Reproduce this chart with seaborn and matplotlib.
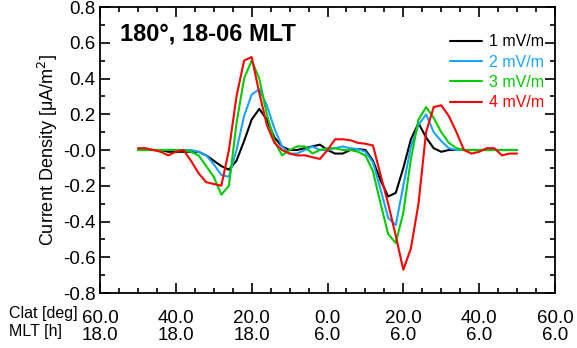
import numpy as np
import pandas as pd
from matplotlib import pyplot as plt
from matplotlib.ticker import MultipleLocator
import seaborn as sns

# position along the 18-06 MLT cut, -60 (18 MLT side) to +60 (06 MLT side)
pos = [-50, -48, -46, -44, -42, -40, -38, -36, -34, -32, -30, -28, -26, -24, -22,
       -20, -18, -16, -14, -12, -10, -8, -6, -4, -2, 0, 2, 4, 6, 8, 10, 12, 14, 16,
       18, 20, 22, 24, 26, 28, 30, 32, 34, 36, 38, 40, 42, 44, 46, 48, 50]

j_1mv = [0.0, 0.0, 0.0, 0.0, -0.01, -0.01, -0.01, -0.01, -0.01, -0.03, -0.06, -0.09, -0.11, -0.06, 0.05,
         0.17, 0.23, 0.17, 0.07, 0.02, 0.0, 0.0, 0.01, 0.02, 0.03, 0.0, -0.02, -0.02, 0.0, 0.005, 0.0, -0.06, -0.17, -0.26,
         -0.24, -0.1, 0.06, 0.15, 0.07, 0.01, -0.01, 0.0, 0.0, 0.0, 0.0, 0.0, 0.0, 0.0, 0.0, 0.0, 0.0]

j_2mv = [0.0, 0.0, 0.0, 0.0, 0.0, 0.0, 0.0, 0.0, -0.01, -0.03, -0.08, -0.14, -0.15, 0.0, 0.19,
         0.31, 0.34, 0.25, 0.12, 0.02, -0.02, -0.02, 0.0, 0.02, 0.0, 0.0, 0.01, 0.02, 0.01, 0.005, -0.01, -0.07, -0.22, -0.38,
         -0.42, -0.2, 0.02, 0.14, 0.2, 0.1, 0.05, 0.01, 0.0, 0.0, 0.0, 0.0, 0.0, 0.0, 0.0, 0.0, 0.0]

j_3mv = [0.0, 0.0, 0.0, 0.0, 0.0, 0.0, 0.0, -0.01, -0.03, -0.09, -0.15, -0.25, -0.2, 0.15, 0.4,
         0.5, 0.4, 0.2, 0.05, -0.03, 0.0, 0.02, 0.02, -0.02, 0.0, 0.01, 0.01, 0.0, 0.0, -0.01, -0.03, -0.12, -0.3, -0.47,
         -0.52, -0.35, -0.05, 0.17, 0.24, 0.18, 0.1, 0.04, 0.01, 0.0, 0.0, 0.0, 0.0, 0.0, 0.0, 0.0, 0.0]

j_4mv = [0.01, 0.01, 0.0, -0.01, -0.03, -0.01, 0.0, -0.06, -0.13, -0.18, -0.19, -0.2, 0.0, 0.3, 0.5,
         0.52, 0.32, 0.14, 0.04, 0.0, -0.02, -0.03, -0.03, -0.04, -0.05, 0.0, 0.06, 0.06, 0.055, 0.04, 0.035, 0.025, -0.14, -0.3,
         -0.48, -0.67, -0.55, -0.3, 0.1, 0.24, 0.25, 0.19, 0.1, 0.0, -0.02, -0.01, 0.01, 0.01, -0.03, -0.02, -0.02]

labels = ['1 mV/m', '2 mV/m', '3 mV/m', '4 mV/m']
colors = ['black', '#1aa3ff', '#00cc00', '#ff0000']

xticks = [-60, -40, -20, 0, 20, 40, 60]
clat_labels = ['60.0', '40.0', '20.0', '0.0', '20.0', '40.0', '60.0']
mlt_labels = ['18.0', '18.0', '18.0', '6.0', '6.0', '6.0', '6.0']

df = pd.DataFrame({'pos': pos, labels[0]: j_1mv, labels[1]: j_2mv,
                   labels[2]: j_3mv, labels[3]: j_4mv})
df = df.melt(id_vars='pos', var_name='field', value_name='j')

sns.set_style('ticks')
plt.rcParams['font.family'] = ['Liberation Sans', 'DejaVu Sans']
plt.rcParams['axes.unicode_minus'] = False
plt.rcParams['text.color'] = 'black'
plt.rcParams['axes.labelcolor'] = 'black'

fig = plt.figure(figsize=(5.77, 3.48), dpi=100)
ax = fig.add_axes([100 / 577, 1 - 293 / 348, 455 / 577, 286 / 348])

sns.lineplot(data=df, x='pos', y='j', hue='field', palette=colors,
             linewidth=1.5, ax=ax, legend=True)

ax.set_xlim(-60, 60)
ax.set_ylim(-0.8, 0.8)
ax.set_xticks(xticks)
ax.set_xticklabels([c + '\n' + m for c, m in zip(clat_labels, mlt_labels)],
                   linespacing=1.0)
ax.xaxis.set_minor_locator(MultipleLocator(5))
ax.set_yticks(np.arange(-0.8, 0.81, 0.2))
ax.set_yticklabels(['%.1f' % v for v in np.arange(-0.8, 0.81, 0.2)])
ax.yaxis.set_minor_locator(MultipleLocator(0.1))
ax.tick_params(which='both', direction='in', top=True, right=True, width=1.2,
               labelsize=13.5, colors='black')
ax.tick_params(which='major', length=7)
ax.tick_params(which='minor', length=3.5)
ax.tick_params(axis='y', pad=3)
ax.tick_params(axis='x', pad=12)
for s in ax.spines.values():
    s.set_linewidth(1.3)
    s.set_color('black')

ax.set_xlabel('')
ax.set_ylabel('Current Density [$\\mathregular{\\mu}$A/m$^2$]', fontsize=13, labelpad=2)

ax.text(0.045, 0.905, '180°, 18-06 MLT', transform=ax.transAxes,
        fontsize=17, fontweight='bold', va='center', ha='left')

fig.text(9 / 577, 1 - 306 / 348, 'Clat [deg]\nMLT [h]', fontsize=11.5,
         va='top', ha='left', linespacing=1.25)

leg = ax.legend(loc='upper right', bbox_to_anchor=(0.976, 0.905), frameon=False,
                fontsize=11.5, handlelength=2.0, handletextpad=0.45,
                labelspacing=0.34, borderpad=0, borderaxespad=0)
for t, c in zip(leg.get_texts(), colors):
    t.set_color(c)

fig.savefig('out.png', dpi=100)
